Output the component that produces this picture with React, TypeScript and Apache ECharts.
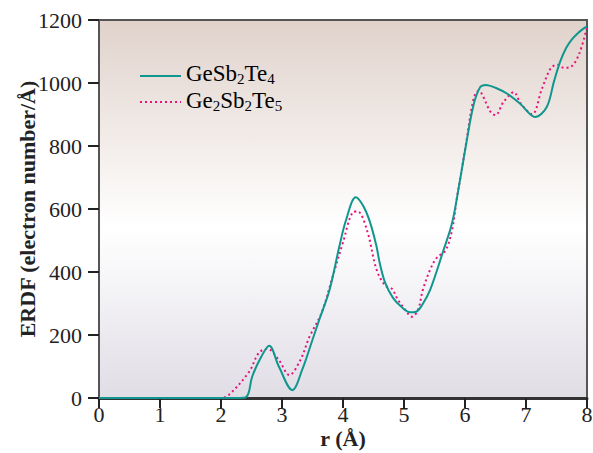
import React, { useEffect, useRef } from "react";
import * as echarts from "echarts";

const xTicks = [0, 1, 2, 3, 4, 5, 6, 7, 8];
const yTicks = [0, 200, 400, 600, 800, 1000, 1200];

const gst124X = [0, 1, 2, 2.38, 2.45, 2.51, 2.66, 2.79, 2.95, 3.17, 3.33, 3.5, 3.61, 3.78, 3.94, 4.05, 4.21, 4.33, 4.44, 4.55, 4.6, 4.69, 4.82, 4.97, 5.1, 5.2, 5.3, 5.43, 5.64, 5.79, 5.92, 6.01, 6.14, 6.25, 6.34, 6.5, 6.7, 6.9, 7.15, 7.34, 7.46, 7.56, 7.66, 7.75, 7.85, 7.93, 8.0];
const gst124Y = [0, 0, 0, 1, 15, 67, 131, 166, 99, 25, 89, 185, 248, 344, 481, 565, 637, 610, 560, 481, 430, 366, 318, 287, 272, 274, 296, 344, 465, 557, 694, 796, 930, 987, 994, 985, 965, 935, 892, 924, 1006, 1068, 1112, 1138, 1158, 1171, 1180];

const gst225X = [0, 1, 2, 2.13, 2.46, 2.62, 2.76, 2.95, 3.12, 3.3, 3.45, 3.65, 3.83, 4.0, 4.16, 4.24, 4.39, 4.55, 4.69, 4.8, 4.9, 5.02, 5.13, 5.23, 5.31, 5.43, 5.54, 5.68, 5.79, 5.87, 5.92, 6.01, 6.14, 6.22, 6.42, 6.5, 6.63, 6.8, 6.91, 7.1, 7.26, 7.41, 7.52, 7.62, 7.74, 7.87, 8.0];
const gst225Y = [0, 0, 0, 10, 83, 143, 156, 120, 73, 120, 194, 271, 385, 494, 589, 592, 535, 408, 357, 347, 312, 280, 258, 280, 344, 408, 446, 468, 535, 640, 694, 799, 949, 975, 908, 898, 939, 971, 936, 901, 981, 1048, 1058, 1048, 1052, 1092, 1176];

const FONT = "Liberation Serif";

export default function App() {
  const ref = useRef<HTMLDivElement>(null);
  useEffect(() => {
    if (!ref.current) return;
    const chart = echarts.init(ref.current, null, { renderer: "svg" });
    const rich = {
      a: { fontFamily: FONT, fontSize: 23, color: "#222", lineHeight: 26 },
      s: { fontFamily: FONT, fontSize: 15, color: "#222", lineHeight: 26, padding: [10, 0, 0, 0] },
    };
    chart.setOption({
      animation: false,
      backgroundColor: "#fff",
      textStyle: { fontFamily: FONT },
      grid: {
        left: 99,
        right: 6,
        top: 20,
        bottom: 55,
        containLabel: false,
        outerBoundsMode: "none",
        show: true,
        borderColor: "#555",
        borderWidth: 2,
        backgroundColor: {
          type: "linear",
          x: 0,
          y: 0,
          x2: 0,
          y2: 1,
          colorStops: [
            { offset: 0, color: "#e0d2cb" },
            { offset: 0.55, color: "#ffffff" },
            { offset: 1, color: "#e0dde5" },
          ],
        },
      },
      graphic: [
        { type: "line", shape: { x1: 140, y1: 76, x2: 181, y2: 76 }, style: { stroke: "#11968f", lineWidth: 2 } },
        { type: "line", shape: { x1: 140, y1: 102, x2: 181, y2: 102 }, style: { stroke: "#e8127e", lineWidth: 2, lineDash: [2, 3] } },
        {
          type: "text",
          left: 186,
          top: 61,
          style: { text: "{a|GeSb}{s|2}{a|Te}{s|4}", rich },
        },
        {
          type: "text",
          left: 186,
          top: 88,
          style: { text: "{a|Ge}{s|2}{a|Sb}{s|2}{a|Te}{s|5}", rich },
        },
      ],
      xAxis: {
        type: "value",
        min: 0,
        max: 8,
        interval: 1,
        name: "r (Å)",
        nameLocation: "middle",
        nameGap: 29,
        nameMoveOverlap: false,
        nameTextStyle: { fontFamily: FONT, fontSize: 22, fontWeight: "bold", color: "#222" },
        axisLine: { show: true, onZero: false, lineStyle: { color: "#333", width: 3 } },
        axisTick: { show: true, length: 10, lineStyle: { color: "#222", width: 2 } },
        axisLabel: { fontFamily: FONT, fontSize: 22, color: "#222", margin: 5, formatter: (v: number) => (xTicks.includes(v) ? String(v) : "") },
        splitLine: { show: false },
      },
      yAxis: {
        type: "value",
        min: 0,
        max: 1200,
        interval: 200,
        name: "ERDF (electron number/Å)",
        nameLocation: "middle",
        nameGap: 61,
        nameMoveOverlap: false,
        nameTextStyle: { fontFamily: FONT, fontSize: 22, fontWeight: "bold", color: "#222" },
        axisLine: { show: true, lineStyle: { color: "#555", width: 2 } },
        axisTick: { show: true, length: 11, lineStyle: { color: "#222", width: 2 } },
        axisLabel: { fontFamily: FONT, fontSize: 22, color: "#222", margin: 17, formatter: (v: number) => (yTicks.includes(v) ? String(v) : "") },
        splitLine: { show: false },
      },
      series: [
        {
          name: "GeSb2Te4",
          type: "line",
          symbol: "none",
          smooth: 0.35,
          data: gst124X.map((x, i) => [x, gst124Y[i]]),
          lineStyle: { color: "#11968f", width: 2 },
          z: 3,
        },
        {
          name: "Ge2Sb2Te5",
          type: "line",
          symbol: "none",
          smooth: 0.35,
          data: gst225X.map((x, i) => [x, gst225Y[i]]),
          lineStyle: { color: "#e8127e", width: 2, type: [2, 3] },
          z: 2,
        },
      ],
    });
    return () => chart.dispose();
  }, []);
  return <div ref={ref} style={{ width: 593, height: 453, position: "absolute", left: 0, top: 0 }} />;
}
